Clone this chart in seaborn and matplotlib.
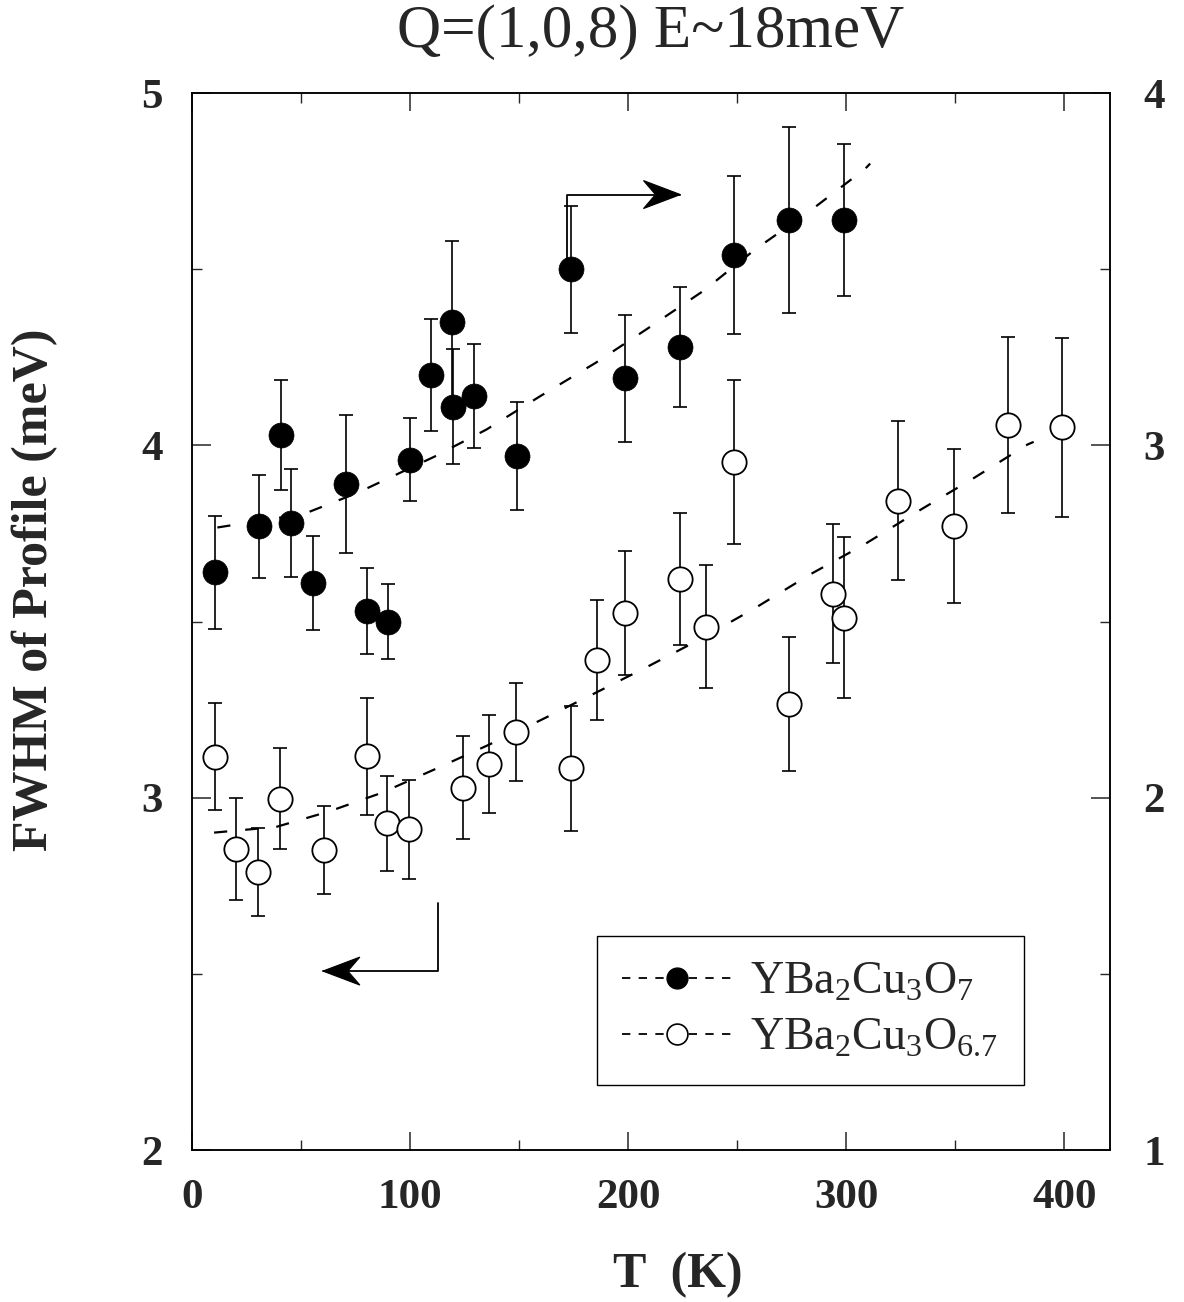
import numpy as np
import pandas as pd
import matplotlib
matplotlib.use("Agg")
import matplotlib.pyplot as plt
import matplotlib.transforms as mtransforms
from matplotlib.lines import Line2D
from matplotlib.patches import Polygon
from matplotlib.ticker import MultipleLocator
import seaborn as sns

# ---------------- data ----------------
# YBa2Cu3O7 (filled circles, right axis)
T_full = [10.6, 30.7, 40.6, 45.5, 55.7, 70.4, 80.3, 89.7, 99.8, 109.7,
          119.4, 119.5, 129.4, 148.9, 173.8, 198.4, 224.0, 248.7, 273.7, 298.8]
W_full = [2.64, 2.77, 3.03, 2.78, 2.61, 2.89, 2.53, 2.50, 2.96, 3.20,
          3.35, 3.11, 3.14, 2.97, 3.50, 3.19, 3.28, 3.54, 3.64, 3.64]
E_full = [0.16, 0.145, 0.156, 0.154, 0.134, 0.195, 0.122, 0.106, 0.118, 0.16,
          0.23, 0.164, 0.147, 0.153, 0.18, 0.18, 0.17, 0.224, 0.264, 0.216]

# YBa2Cu3O6.7 (open circles, left axis)
T_under = [10.5, 20.2, 30.4, 40.5, 60.4, 80.2, 89.6, 99.7, 124.1, 136.1, 148.7, 173.6,
           185.5, 198.4, 223.7, 235.7, 248.7, 273.8, 293.8, 298.9, 323.8, 349.3, 374.1, 399.2]
W_under = [3.117, 2.855, 2.788, 2.997, 2.851, 3.118, 2.927, 2.910, 3.029, 3.095, 3.186, 3.083,
           3.391, 3.525, 3.621, 3.486, 3.953, 3.267, 3.579, 3.511, 3.843, 3.772, 4.057, 4.051]
E_under = [0.152, 0.145, 0.125, 0.143, 0.125, 0.166, 0.136, 0.14, 0.145, 0.139, 0.139, 0.176,
           0.17, 0.176, 0.188, 0.175, 0.233, 0.19, 0.197, 0.228, 0.225, 0.219, 0.25, 0.255]

# dashed guide curves
fitT_full = [11.6, 51.5, 75.7, 110.8, 135.0, 160.0, 185.0, 209.0, 234.6, 258.0, 283.7, 308.7, 311.0]
fitW_full = [2.767, 2.806, 2.865, 2.967, 3.045, 3.141, 3.234, 3.332, 3.439, 3.555, 3.667, 3.785, 3.80]
fitT_under = [10.1, 38.5, 62.8, 87.0, 110.7, 135.3, 159.5, 184.2, 209.2, 233.4, 258.4,
              283.5, 308.1, 333.2, 358.2, 383.3, 386.0]
fitW_under = [2.901, 2.917, 2.961, 3.014, 3.079, 3.148, 3.219, 3.295, 3.373, 3.451, 3.539,
              3.634, 3.718, 3.814, 3.906, 4.003, 4.01]

x_ticks = [0, 100, 200, 300, 400]
x_tick_labels = ["0", "100", "200", "300", "400"]
yl_ticks = [2, 3, 4, 5]
yl_tick_labels = ["2", "3", "4", "5"]
yr_ticks = [1, 2, 3, 4]
yr_tick_labels = ["1", "2", "3", "4"]
legend_labels = [r"YBa$_\mathregular{2}$Cu$_\mathregular{3}$O$_\mathregular{7}$",
                 r"YBa$_\mathregular{2}$Cu$_\mathregular{3}$O$_\mathregular{6.7}$"]
title_text = "Q=(1,0,8) E~18meV"
xlabel_text = "T  (K)"
ylabel_text = "FWHM of Profile (meV)"

# ---------------- style ----------------
sns.set_style("ticks")
plt.rcParams["font.family"] = ["Liberation Serif", "DejaVu Serif"]
plt.rcParams["lines.scale_dashes"] = False
plt.rcParams["axes.linewidth"] = 1.1
plt.rcParams["mathtext.fontset"] = "custom"
plt.rcParams["mathtext.rm"] = "Liberation Serif"

fig = plt.figure(figsize=(11.84, 13.02), dpi=100)
ax = fig.add_axes([0.1622, 0.1167, 0.7753, 0.8118])
ax2 = ax.twinx()

DASH = (0, (9.5, 13))

# open circles on left axis
ax.errorbar(T_under, W_under, yerr=E_under, fmt="none", ecolor="k",
            elinewidth=1.2, capsize=5, capthick=1.2, zorder=2)
sns.lineplot(x=fitT_under, y=fitW_under, ax=ax, color="k", lw=1.6,
             linestyle=DASH, sort=False, estimator=None, zorder=1, legend=False)
sns.scatterplot(x=T_under, y=W_under, ax=ax, marker="o", s=17.5 ** 2,
                color="white", edgecolor="black", linewidth=1.3, zorder=3, legend=False)

# filled circles on right axis
ax2.errorbar(T_full, W_full, yerr=E_full, fmt="none", ecolor="k",
             elinewidth=1.2, capsize=5, capthick=1.2, zorder=2)
sns.lineplot(x=fitT_full, y=fitW_full, ax=ax2, color="k", lw=1.6,
             linestyle=DASH, sort=False, estimator=None, zorder=1, legend=False)
sns.scatterplot(x=T_full, y=W_full, ax=ax2, marker="o", s=18 ** 2,
                color="black", edgecolor="black", linewidth=0.5, zorder=3, legend=False)

# ---------------- axes ----------------
ax.set_xlim(0, 421)
ax.set_ylim(2, 5)
ax2.set_ylim(1, 4)

ax.set_xticks(x_ticks, x_tick_labels, fontsize=31, fontweight="bold")
ax.set_yticks(yl_ticks, yl_tick_labels, fontsize=31, fontweight="bold")
ax2.set_yticks(yr_ticks, yr_tick_labels, fontsize=31, fontweight="bold")
ax.xaxis.set_minor_locator(MultipleLocator(50))
ax.yaxis.set_minor_locator(MultipleLocator(0.5))
ax2.yaxis.set_minor_locator(MultipleLocator(0.5))

ax.tick_params(axis="x", which="major", direction="in", length=13, width=1.1,
               top=True, bottom=True, pad=21)
ax.tick_params(axis="x", which="minor", direction="in", length=7, width=1.0,
               top=True, bottom=True)
ax.tick_params(axis="y", which="major", direction="in", length=14, width=1.1,
               left=True, right=False, pad=21)
ax.tick_params(axis="y", which="minor", direction="in", length=7, width=1.0,
               left=True, right=False)
ax2.tick_params(axis="y", which="major", direction="in", length=14, width=1.1,
                right=True, left=False, pad=24)
ax2.tick_params(axis="y", which="minor", direction="in", length=7, width=1.0,
                right=True, left=False)

for a in (ax, ax2):
    for sp in a.spines.values():
        sp.set_visible(True)
        sp.set_linewidth(1.1)
        sp.set_color("k")

ax.set_title(title_text, fontsize=44, y=1.05, va="center")
ax.set_xlabel(xlabel_text, fontsize=36, fontweight="bold", va="center")
ax.xaxis.set_label_coords(0.529, -0.118)
ax.set_ylabel(ylabel_text, fontsize=36, fontweight="bold", va="center")
ax.yaxis.set_label_coords(-0.171, 0.53)
ax2.set_ylabel("")

# ---------------- arrows (annotations, left-axis data coords) ----------------
def bent_arrow(a, pts, direction):
    xs = [p[0] for p in pts]
    ys = [p[1] for p in pts]
    a.plot(xs, ys, color="k", lw=1.3, zorder=4)
    tip = pts[-1]
    s = 1 if direction == "right" else -1
    verts = [(0, 0), (-s * 0.37, 0.14), (-s * 0.25, 0), (-s * 0.37, -0.14)]
    trans = fig.dpi_scale_trans + mtransforms.ScaledTranslation(tip[0], tip[1], a.transData)
    a.add_patch(Polygon(verts, closed=True, transform=trans, facecolor="k",
                        edgecolor="k", lw=0.8, zorder=4))

bent_arrow(ax, [(172, 4.53), (172, 4.712), (224, 4.712)], "right")
bent_arrow(ax, [(112.6, 2.70), (112.6, 2.508), (60, 2.508)], "left")

# ---------------- legend ----------------
handles = [
    Line2D([], [], color="k", lw=1.3, ls=(0, (6, 6)), marker="o", ms=15,
           mfc="k", mec="k"),
    Line2D([], [], color="k", lw=1.3, ls=(0, (6, 6)), marker="o", ms=15,
           mfc="white", mec="k", mew=1.2),
]
leg = ax2.legend(handles, legend_labels, loc="lower left", bbox_to_anchor=(0.441, 0.0615),
                 fontsize=33, frameon=True, fancybox=False, edgecolor="k", framealpha=1,
                 handlelength=2.4, handletextpad=0.4, borderpad=0.55, labelspacing=0.3,
                 borderaxespad=0)
leg.get_frame().set_linewidth(1.0)

fig.savefig("out.png", dpi=100)
